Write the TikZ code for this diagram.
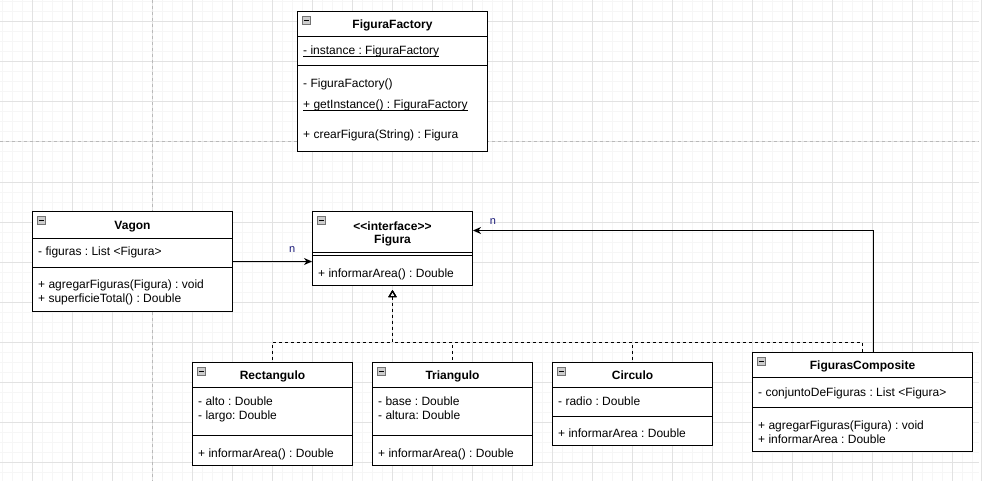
\documentclass[tikz,border=0pt]{standalone}
\usepackage{fontspec}
\setmainfont{Liberation Sans}
\frenchspacing
\usetikzlibrary{arrows.meta, positioning}
\definecolor{gridminor}{RGB}{246,246,246}
\definecolor{gridmajor}{RGB}{226,226,226}
\definecolor{pagebreak}{RGB}{185,185,185}
\definecolor{iconfill}{RGB}{205,205,205}
\definecolor{labelblue}{RGB}{25,25,120}
\tikzset{
  minor grid/.style = {gridminor, line width=1pt},
  major grid/.style = {gridmajor, line width=1pt},
  page break/.style = {pagebreak, line width=1pt, dash pattern=on 3pt off 3pt},
  classbox/.style = {draw, line width=1pt, fill=white, rectangle, inner sep=0},
  divider/.style = {line width=1pt},
  collapse/.style = {draw=black!55, fill=iconfill, line width=0.6pt,
                     minimum size=7.5pt, inner sep=0},
  title/.style = {font=\fontsize{12}{13}\selectfont\bfseries, inner sep=0,
                  anchor=base, align=center},
  member/.style = {font=\fontsize{12}{14}\selectfont, inner sep=0,
                   anchor=base west, align=left},
  link/.style = {line width=1pt, arrows={-Stealth[length=8pt, width=7pt, inset=2.5pt]}},
  realize/.style = {line width=1pt, dash pattern=on 3pt off 3pt,
                    arrows={Triangle[open, length=7pt, width=8pt]-}, shorten <=4pt},
  multiplicity/.style = {labelblue, inner sep=0, font=\fontsize{11}{13}\selectfont},
}
\newcommand{\staticmember}[1]{\underline{\smash{#1}}}
\newcommand{\umlclass}[7][]{%
  %% Draw a class box with its header and two compartments:
  %% Arguments:
  %%    1. Extra options for the title (optional)
  %%    2. Name
  %%    3. Top left corner
  %%    4. Width
  %%    5. Height
  %%    6. Header height
  %%    7. Attributes height
  \node [classbox, anchor=north west, minimum width=#4pt, minimum height=#5pt]
        (#2) at (#3) {};
  \draw [divider] ([yshift=-#6pt]#2.north west) -- ([yshift=-#6pt]#2.north east);
  \draw [divider] ([yshift=-#6pt-#7pt]#2.north west) -- ([yshift=-#6pt-#7pt]#2.north east);

  %% The small collapse button
  \node [collapse] (#2_icon) at ([xshift=9.5pt, yshift=-9.5pt]#2.north west) {};
  \draw [line width=0.8pt] ([xshift=1.5pt]#2_icon.west) -- ([xshift=-1.5pt]#2_icon.east);

  %% The class name, centred in the header
  \node [title, #1] (#2_title) at ([yshift=-#6pt/2-4.5pt]#2.north) {\classname};
}

\begin{document}
\begin{tikzpicture}[x=1pt, y=-1pt]
  % Fix the canvas to the size of the screenshot
  \useasboundingbox (0,0) rectangle (984,481);

  %% Background grid and page breaks
  \foreach \g in {2,12,...,972}{%
    \draw [minor grid] (\g,0) -- (\g,481);
  }
  \foreach \g in {2,12,...,472}{%
    \draw [minor grid] (0,\g) -- (979,\g);
  }
  \foreach \g in {32,72,...,952}{%
    \draw [major grid] (\g,0) -- (\g,481);
  }
  \foreach \g in {22,62,...,462}{%
    \draw [major grid] (0,\g) -- (979,\g);
  }
  \draw [major grid] (981,0) -- (981,481);
  \draw [page break] (152,0) -- (152,481);
  \draw [page break] (0,142) -- (979,142);

  %% The classes
  \def\classname{FiguraFactory}
  \umlclass{factory}{297,11}{190}{140}{26}{29}
  \def\classname{Vagon}
  \umlclass{vagon}{32,211}{200}{100}{27}{29}
  \def\classname{<\kern0pt<interface>\kern0pt>\\Figura}
  \umlclass[yshift=-7pt]{figura}{312,211}{160}{74}{41}{3}
  \def\classname{Rectangulo}
  \umlclass{rectangulo}{192,362}{160}{103}{25}{48}
  \def\classname{Triangulo}
  \umlclass{triangulo}{372,362}{160}{103}{25}{48}
  \def\classname{Circulo}
  \umlclass{circulo}{552,362}{160}{83}{25}{29}
  \def\classname{FigurasComposite}
  \umlclass{composite}{752,352}{220}{99}{25}{30}

  %% Attributes and operations (base is the last line of each node)
  \node [member] (factory_instance) at ([xshift=6pt, yshift=-44pt]factory.north west)
        {\staticmember{- instance : FiguraFactory}};
  \node [member] (factory_ctor) at ([xshift=6pt, yshift=-77pt]factory.north west)
        {- FiguraFactory()};
  \node [member] (factory_get) at ([xshift=6pt, yshift=-98pt]factory.north west)
        {\staticmember{+ getInstance() : FiguraFactory}};
  \node [member] (factory_create) at ([xshift=6pt, yshift=-128pt]factory.north west)
        {+ crearFigura(String) : Figura};

  \node [member] (vagon_attrs) at ([xshift=6pt, yshift=-44pt]vagon.north west)
        {- figuras : List <Figura>};
  \node [member] (vagon_ops) at ([xshift=6pt, yshift=-91.5pt]vagon.north west)
        {+ agregarFiguras(Figura) : void\\+ superficieTotal() : Double};

  \node [member] (figura_ops) at ([xshift=6pt, yshift=-66pt]figura.north west)
        {+ informarArea() : Double};

  \node [member] (rectangulo_attrs) at ([xshift=6pt, yshift=-57pt]rectangulo.north west)
        {- alto : Double\\- largo: Double};
  \node [member] (rectangulo_ops) at ([xshift=6pt, yshift=-95pt]rectangulo.north west)
        {+ informarArea() : Double};

  \node [member] (triangulo_attrs) at ([xshift=6pt, yshift=-57pt]triangulo.north west)
        {- base : Double\\- altura: Double};
  \node [member] (triangulo_ops) at ([xshift=6pt, yshift=-95pt]triangulo.north west)
        {+ informarArea() : Double};

  \node [member] (circulo_attrs) at ([xshift=6pt, yshift=-43pt]circulo.north west)
        {- radio : Double};
  \node [member] (circulo_ops) at ([xshift=6pt, yshift=-75pt]circulo.north west)
        {+ informarArea : Double};

  \node [member] (composite_attrs) at ([xshift=6pt, yshift=-44pt]composite.north west)
        {- conjuntoDeFiguras : List <Figura>};
  \node [member] (composite_ops) at ([xshift=6pt, yshift=-91pt]composite.north west)
        {+ agregarFiguras(Figura) : void\\+ informarArea : Double};

  %% Associations towards the interface
  \draw [link] (vagon.east) -- (vagon.east -| figura.west)
    node [multiplicity, pos=0.75, above=9pt] (vagon_n) {n};
  \draw [link] ([xshift=11pt]composite.north) |- ([yshift=18pt]figura.east)
    node [multiplicity, pos=0.975, above=6pt] (composite_n) {n};

  %% Realizations, all joined on one dashed bus
  \coordinate (bus) at ([yshift=-56pt]figura.south);
  \foreach \sub in {rectangulo,triangulo,circulo,composite}{%
    \draw [realize] (figura.south) -- (bus) -| (\sub.north);
  }
\end{tikzpicture}
\end{document}
